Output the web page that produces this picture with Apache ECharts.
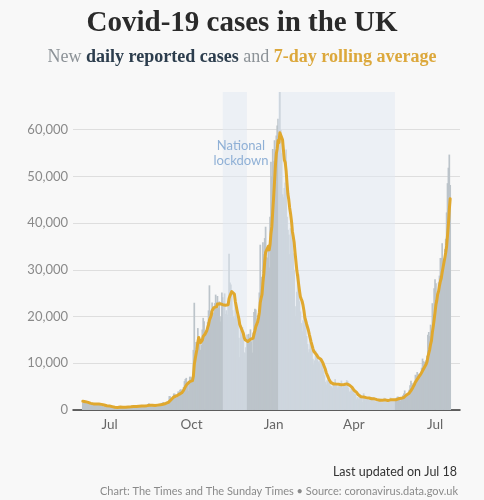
<!DOCTYPE html>
<html><head><meta charset="utf-8">
<script src="https://cdn.jsdelivr.net/npm/echarts@6/dist/echarts.min.js"></script>
<style>html,body{margin:0;padding:0;background:#f8f8f8}#c{width:484px;height:500px}</style>
</head><body><div id="c"></div>
<script>
// ---- data (daily reported UK cases, by publish date) ----
const firstDay = '2020-06-01';
const may2020Tail = [2004, 2013, 1887, 2095, 1625, 1936]; // May 26–31, only for the rolling average
const jun2020 = [1570,1613,1871,1805,1650,1557,1326,1205,1387,1003,1266,1541,1425,1514,1056,1279,1115,1218,1346,1295,1221,958,874,653,1118,1006,890,901,815,689];
const jul2020 = [576,829,630,624,516,352,581,630,642,512,820,650,530,538,398,642,687,827,580,445,560,760,769,880,767,744,685,763,581,846,880];
const aug2020 = [761,743,938,670,892,950,871,758,1062,728,1148,1009,841,1441,1012,1040,713,1089,812,1182,1033,1288,1041,853,1048,1184,1276,1522,1108,1715,1406];
const sep2020 = [1295,1508,1735,1813,1940,2988,2948,2460,2659,2919,3539,3497,3330,2621,3105,3991,3395,4322,4422,3899,4368,4926,6178,6634,6874,6042,5693,4044,7143,7108];
const oct2020 = [6914,6968,12872,22961,12594,14542,14162,17540,13864,15166,12872,13972,17234,19724,18980,15650,16171,16982,18804,21331,26688,21242,20530,23012,19790,20890,22885,24701,23065,24405,21915];
const nov2020 = [23254,18950,20018,25177,24141,23287,24957,20572,21350,20412,22950,33470,27301,26860,24962,21363,20051,19609,22915,20252,19875,18662,15450,11299,18213,17555,17772,15871,12330,12155];
const dec2020 = [13430,16170,14879,16298,15539,17272,14718,12282,16578,20964,21672,21502,18447,20263,18450,25161,35383,28507,27052,35928,33364,36804,39237,32725,32590,34693,30501,41385,53135,50023,55892];
const jan2021 = [53285,57725,54990,58784,60916,62322,52618,68053,59937,54940,46169,45533,47525,48682,55761,41346,38598,37535,33355,38905,37892,40261,33552,30004,22195,20089,25308,28680,29079,23275,21088];
const feb2021 = [18607,16840,19202,20634,19114,18262,15845,14104,12364,13013,15144,13494,13308,10972,9765,10625,12718,12057,12027,10406,9834,10641,8489,9938,9985,8523,7434,6035];
const mar2021 = [5455,6385,5766,6573,6040,5177,5088,4712,5766,5926,6609,5534,5089,4618,5089,5294,5758,6303,4802,5587,5312,5342,5379,6397,6187,4715,3862,4040,4654,4052,4040];
const apr2021 = [4479,3402,3423,2297,2762,2379,2963,3150,3030,2589,1730,3568,2472,2491,2672,2596,2206,1882,2524,2501,2396,2729,2678,2026,1712,2064,1946,2166,2432,2381];
const may2021 = [2411,1671,1649,1946,2613,2490,2047,1770,1608,2357,2284,2657,2027,2193,2051,1926,1979,2412,2696,2874,2829,2235,1985,2439,2493,3180,3542,4182,3398,3240,3383];
const jun2021 = [3165,4330,5274,6238,5765,5341,5683,6048,7540,7393,8125,7738,7490,7742,7673,9055,11007,10476,10321,9284,10633,11625,16135,16703,15810,18270,14876,22868,20479,26068];
const jul2021 = [27989,27125,24885,24248,27334,28773,32548,32551,35707,32367,31772,34471,36660,42302,48553,51870,54674,48161];

const xTickDates = ['2020-07-01','2020-10-01','2021-01-01','2021-04-01','2021-07-01'];
const xTickLabels = ['Jul','Oct','Jan','Apr','Jul'];
const lockdowns = [['2020-11-05','2020-12-02'],['2021-01-06','2021-05-17']];
const lockdownLabel = 'National\nlockdown';

// ---- derived ----
const DAY = 86400000;
const dayIndex = s => Math.round((Date.parse(s) - Date.parse(firstDay)) / DAY);
const daily = [].concat(jun2020,jul2020,aug2020,sep2020,oct2020,nov2020,dec2020,jan2021,feb2021,mar2021,apr2021,may2021,jun2021,jul2021);
const withTail = may2020Tail.concat(daily);
const barData = daily.map((v,i)=>[i,v]);
const avgData = daily.map((v,i)=>{ let s=0; for(let k=0;k<7;k++) s+=withTail[i+may2020Tail.length-k]; return [i, s/7]; });
const xTickDays = xTickDates.map(dayIndex);
const maxDaily = Math.max.apply(null, daily);

const chart = echarts.init(document.getElementById('c'), null, {renderer:'canvas'});
chart.setOption({
  backgroundColor: '#f8f8f8',
  animation: false,
  title: [
    { text: 'Covid-19 cases in the UK', left: 'center', top: 4,
      textStyle: { fontFamily: 'Liberation Serif', fontWeight: 'bold', fontSize: 29, color: '#2a2a2a' } },
    { text: '{g|New} {b|daily reported cases} {g|and} {o|7-day rolling average}', left: 'center', top: 43,
      textStyle: { fontFamily: 'Liberation Serif', fontSize: 18, fontWeight: 'normal',
        rich: {
          g: { fontFamily: 'Liberation Serif', fontSize: 18, fontWeight: 'normal', color: '#8c9297' },
          b: { fontFamily: 'Liberation Serif', fontSize: 18, fontWeight: 'bold', color: '#2c3d4d' },
          o: { fontFamily: 'Liberation Serif', fontSize: 18, fontWeight: 'bold', color: '#dca83c' }
        } } },
    { text: lockdownLabel, left: 236, top: 133, textAlign: 'center',
      textStyle: { fontFamily: 'Lato', fontWeight: 'normal', fontSize: 13, lineHeight: 15, color: '#8fb0d6' } },
    { text: 'Last updated on Jul 18', right: 22, top: 460,
      textStyle: { fontFamily: 'Lato', fontWeight: 'normal', fontSize: 12.5, color: '#333' } },
    { text: 'Chart: The Times and The Sunday Times \u2022 Source: coronavirus.data.gov.uk', right: 21, top: 481,
      textStyle: { fontFamily: 'Lato', fontWeight: 'normal', fontSize: 11, color: '#8a8a8a' } }
  ],
  grid: { left: 73, right: 24, top: 83, bottom: 90 },
  xAxis: {
    type: 'value', min: -11, max: 423,
    axisLine: { show: true, lineStyle: { color: '#333', width: 1.5 } },
    axisTick: { show: false, customValues: xTickDays },
    splitLine: { show: false },
    axisLabel: { customValues: xTickDays, margin: 8, fontFamily: 'Lato', fontSize: 13.5, color: '#666',
      formatter: v => xTickLabels[xTickDays.indexOf(Math.round(v))] || '' }
  },
  yAxis: {
    type: 'value', min: 0, max: 70000, interval: 10000,
    axisLine: { show: false }, axisTick: { show: false },
    splitLine: { show: true, showMaxLine: false, lineStyle: { color: '#dedede', width: 1 } },
    axisLabel: { showMaxLabel: false, margin: 5, fontFamily: 'Lato', fontSize: 13, color: '#8a8a8a',
      formatter: v => v.toLocaleString('en-US') }
  },
  series: [
    { type: 'bar', data: barData, barWidth: 1.7, z: 2,
      itemStyle: { color: '#bcc4ca' }, silent: true },
    { type: 'line', data: [], z: 3, silent: true,
      markArea: { silent: true, z: 3, itemStyle: { color: 'rgba(224,232,242,0.5)' },
        data: lockdowns.map(([a,b]) => [{ xAxis: dayIndex(a), yAxis: 0 }, { xAxis: dayIndex(b), yAxis: maxDaily }]) } },
    { type: 'line', data: avgData, z: 5, showSymbol: false, symbol: 'none', silent: true,
      lineStyle: { color: '#e0a82e', width: 3, cap: 'round', join: 'round' } }
  ]
});
</script></body></html>
